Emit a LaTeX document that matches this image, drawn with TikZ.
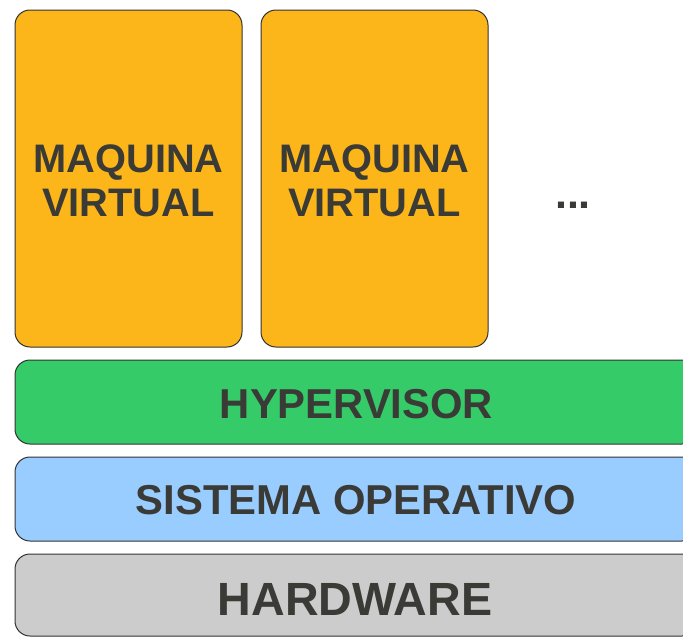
\documentclass[tikz,border=0pt]{standalone}
\usepackage{fontspec}
\setmainfont{Liberation Sans}
\definecolor{vmfill}{HTML}{FDB619}
\definecolor{hypfill}{HTML}{35CB69}
\definecolor{osfill}{HTML}{99CCFF}
\definecolor{hwfill}{HTML}{CCCCCC}
\definecolor{edge}{HTML}{333333}
\definecolor{label}{HTML}{3A3A36}
\tikzset{
  layer/.style={draw=edge, line width=1pt, rounded corners=15pt},
  caption/.style={text=label, font=\bfseries, anchor=base, inner sep=0pt},
  vmtext/.style={caption, font=\bfseries\fontsize{39.8}{45}\selectfont},
  bartext/.style={caption, font=\bfseries\fontsize{41.8}{45}\selectfont},
}
\begin{document}
\begin{tikzpicture}[x=1pt, y=-1pt]
  \useasboundingbox (0,0) rectangle (683,637);
  \clip (0,0) rectangle (683,637);
  \fill[white] (0,0) rectangle (683,637);
  % virtual machines
  \draw[layer, fill=vmfill] (15,10) rectangle (242,347);
  \draw[layer, fill=vmfill] (261,10) rectangle (488,347);
  \node[vmtext] (vm1a) at (128.5,172) {MAQUINA};
  \node[vmtext] (vm1b) at (128.5,216.5) {VIRTUAL};
  \node[vmtext] (vm2a) at (374.5,172) {MAQUINA};
  \node[vmtext] (vm2b) at (374.5,216.5) {VIRTUAL};
  \node[caption, font=\bfseries\fontsize{43}{45}\selectfont] (more) at (573,208) {...};
  % stacked layers
  \draw[layer, fill=hypfill] (15,360) rectangle (697,444);
  \node[bartext] (hyp) at (356.5,418) {HYPERVISOR};
  \draw[layer, fill=osfill] (15,457) rectangle (697,541);
  \node[bartext] (os) at (356,514.5) {SISTEMA OPERATIVO};
  \draw[layer, fill=hwfill] (15,554) rectangle (697,636);
  \node[caption, font=\bfseries\fontsize{46.6}{50}\selectfont] (hw) at (355,615) {HARDWARE};
\end{tikzpicture}
\end{document}
